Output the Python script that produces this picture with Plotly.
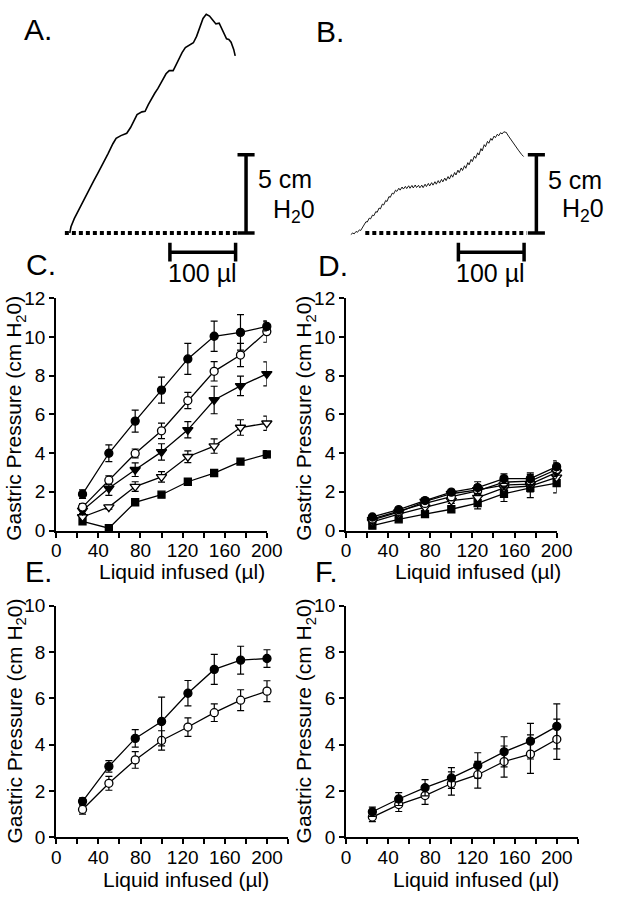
import plotly.graph_objects as go

W, H = 619, 899
FONT = "Liberation Sans, Arial, sans-serif"

# ---------------- data ----------------
volumes = [25, 50, 75, 100, 125, 150, 175, 200]

# Panel C (5 groups)
C_fcircle = [1.88, 3.99, 5.65, 7.25, 8.86, 10.03, 10.23, 10.54]
C_fcircle_err = [0.22, 0.43, 0.57, 0.67, 0.80, 0.78, 0.92, 0.23]
C_ocircle = [1.21, 2.60, 3.98, 5.15, 6.71, 8.22, 9.06, 10.27]
C_ocircle_err = [0.18, 0.22, 0.23, 0.40, 0.42, 0.50, 0.60, 0.55]
C_ftri = [1.04, 2.18, 3.14, 4.06, 5.20, 6.74, 7.47, 8.09]
C_ftri_err = [0.15, 0.36, 0.35, 0.42, 0.42, 0.71, 0.50, 0.62]
C_otri = [0.70, 1.21, 2.27, 2.77, 3.81, 4.36, 5.32, 5.54]
C_otri_err = [0.10, 0.10, 0.25, 0.27, 0.30, 0.37, 0.40, 0.37]
C_square = [0.47, 0.12, 1.46, 1.85, 2.52, 2.97, 3.56, 3.93]
C_square_err = [0.10, 0.08, 0.10, 0.10, 0.10, 0.10, 0.12, 0.20]

# Panel D (5 groups)
D_fcircle = [0.70, 1.08, 1.55, 1.98, 2.22, 2.68, 2.68, 3.30]
D_fcircle_err = [0.12, 0.10, 0.15, 0.15, 0.30, 0.25, 0.30, 0.30]
D_ocircle = [0.60, 1.00, 1.40, 1.75, 2.05, 2.50, 2.55, 3.15]
D_ocircle_err = [0.10, 0.10, 0.15, 0.20, 0.25, 0.30, 0.35, 0.35]
D_ftri = [0.55, 0.95, 1.50, 1.90, 2.10, 2.35, 2.40, 3.00]
D_ftri_err = [0.10, 0.10, 0.15, 0.20, 0.25, 0.25, 0.30, 0.30]
D_otri = [0.45, 0.85, 1.20, 1.55, 1.70, 2.20, 2.30, 2.75]
D_otri_err = [0.10, 0.10, 0.15, 0.15, 0.20, 0.25, 0.30, 0.30]
D_square = [0.25, 0.58, 0.85, 1.10, 1.42, 1.90, 2.20, 2.45]
D_square_err = [0.10, 0.10, 0.15, 0.15, 0.30, 0.40, 0.50, 0.50]

# Panel E
E_filled = [1.55, 3.06, 4.27, 5.00, 6.22, 7.25, 7.65, 7.72]
E_filled_err = [0.15, 0.25, 0.38, 1.05, 0.55, 0.65, 0.60, 0.38]
E_open = [1.20, 2.33, 3.34, 4.18, 4.76, 5.38, 5.92, 6.31]
E_open_err = [0.20, 0.30, 0.36, 0.42, 0.40, 0.38, 0.45, 0.45]

# Panel F
F_filled = [1.10, 1.65, 2.14, 2.56, 3.10, 3.69, 4.15, 4.79]
F_filled_err = [0.20, 0.28, 0.35, 0.45, 0.55, 0.65, 0.77, 0.97]
F_open = [0.87, 1.41, 1.80, 2.32, 2.70, 3.27, 3.59, 4.23]
F_open_err = [0.20, 0.30, 0.38, 0.50, 0.58, 0.67, 0.83, 0.87]

# Panel A raw trace (µl infused, cm H2O)
A_ul = [0, 1.9, 6.9, 14.3, 21.6, 29.0, 36.3, 43.7, 51.0, 58.4, 65.7, 70.6, 77.9,
        86.8, 92.6, 97.5, 102.5, 109.9, 114.7, 119.6, 124.6, 129.4, 134.3, 141.6,
        146.6, 151.5, 157.4, 161.3, 166.2, 171.0, 176.0, 183.4, 188.2, 193.1,
        198.1, 202.9, 207.8, 212.8, 217.6, 222.5, 227.5, 230.9, 234.9, 238.7,
        242.2, 245.6, 249.6, 251.9]
A_cm = [0, 0.40, 0.92, 1.50, 2.06, 2.69, 3.31, 3.90, 4.46, 5.08, 5.71, 6.06, 6.23,
        6.38, 6.75, 7.17, 7.58, 7.75, 7.79, 8.21, 8.63, 8.94, 9.25, 9.77,
        10.19, 10.39, 10.39, 10.71, 11.13, 11.54, 11.86, 12.06, 12.17, 12.58,
        13.21, 13.73, 14.00, 13.88, 13.63, 13.38, 13.42, 13.11, 12.69, 12.42,
        12.38, 12.21, 11.75, 11.33]

# Panel B raw trace (µl infused, cm H2O) - jagged recording
B_ul = [0, 3, 5, 8, 10, 13, 15, 18, 20, 23, 25, 28, 30, 33, 35, 38, 40, 43, 45,
        48, 50, 53, 55, 58, 60, 63, 65, 68, 70, 73, 75, 78, 80, 83, 85, 88, 90,
        93, 95, 98, 100, 103, 105, 108, 110, 113, 115, 118, 120, 123, 125, 128,
        130, 133, 135, 138, 140, 143, 145, 148, 150, 153, 155, 158, 160, 163,
        165, 168, 170, 173, 175, 178, 180, 183, 185, 188, 190, 193, 195, 198,
        200, 203, 205, 208, 210, 213, 215, 218, 220, 223, 225, 228, 230, 233,
        235, 236, 240, 245, 250, 255, 260, 263]
B_cm = [-0.10, 0.00, -0.06, 0.10, 0.04, 0.20, 0.16, 0.40, 0.46, 0.72, 0.70, 0.95,
        0.90, 1.15, 1.10, 1.37, 1.32, 1.60, 1.54, 1.85, 1.79, 2.08, 2.01, 2.33,
        2.28, 2.55, 2.49, 2.74, 2.66, 2.86, 2.74, 2.94, 2.81, 2.98, 2.84, 3.02,
        2.86, 3.04, 2.88, 3.07, 2.91, 3.05, 2.89, 3.06, 2.90, 3.12, 2.97, 3.17,
        3.01, 3.22, 3.06, 3.28, 3.12, 3.35, 3.19, 3.43, 3.27, 3.51, 3.35, 3.61,
        3.45, 3.73, 3.57, 3.87, 3.71, 4.02, 3.86, 4.16, 4.00, 4.30, 4.14, 4.50,
        4.36, 4.71, 4.57, 4.92, 4.78, 5.13, 4.99, 5.40, 5.25, 5.65, 5.52, 5.86,
        5.74, 6.05, 5.93, 6.20, 6.10, 6.32, 6.22, 6.42, 6.33, 6.48, 6.44, 6.46,
        6.20, 5.88, 5.58, 5.30, 5.02, 4.89]

SCALE_CM = 5      # vertical calibration bar (cm H2O)
SCALE_UL = 100    # horizontal calibration bar (µl)

# ---------------- layout helpers ----------------
def fx(px):
    return px / W

def fy(py):
    return 1 - py / H

fig = go.Figure()

def add_series(xa, ya, y, err, symbol, filled, size):
    fig.add_trace(go.Scatter(
        x=volumes, y=y, xaxis=xa, yaxis=ya, mode="lines+markers",
        line=dict(color="black", width=1.3),
        marker=dict(symbol=symbol, size=size,
                    color="black" if filled else "white",
                    line=dict(color="black", width=1.3)),
        error_y=dict(type="data", array=err, color="black", thickness=1.2, width=3.5),
        cliponaxis=False, showlegend=False, hoverinfo="skip"))

# Panel C
add_series("x", "y", C_square, C_square_err, "square", True, 7)
add_series("x", "y", C_otri, C_otri_err, "triangle-down", False, 9)
add_series("x", "y", C_ftri, C_ftri_err, "triangle-down", True, 9)
add_series("x", "y", C_ocircle, C_ocircle_err, "circle", False, 8)
add_series("x", "y", C_fcircle, C_fcircle_err, "circle", True, 8)
# Panel D
add_series("x2", "y2", D_square, D_square_err, "square", True, 7)
add_series("x2", "y2", D_otri, D_otri_err, "triangle-down", False, 9)
add_series("x2", "y2", D_ftri, D_ftri_err, "triangle-down", True, 9)
add_series("x2", "y2", D_ocircle, D_ocircle_err, "circle", False, 8)
add_series("x2", "y2", D_fcircle, D_fcircle_err, "circle", True, 8)
# Panel E
add_series("x3", "y3", E_open, E_open_err, "circle", False, 8)
add_series("x3", "y3", E_filled, E_filled_err, "circle", True, 8)
# Panel F
add_series("x4", "y4", F_open, F_open_err, "circle", False, 8)
add_series("x4", "y4", F_filled, F_filled_err, "circle", True, 8)

# Panels A and B: raw traces with calibration bars
PX_PER_UL = 0.68
PX_PER_CM = 16.0

def add_trace_panel(xa, ya, ul, cm, lw, base_start, base_end, vbar_x, hbar_start, hbar_y):
    fig.add_trace(go.Scatter(x=ul, y=cm, xaxis=xa, yaxis=ya, mode="lines",
                             line=dict(color="black", width=lw),
                             showlegend=False, hoverinfo="skip"))
    # dotted baseline
    fig.add_trace(go.Scatter(x=[base_start, base_end], y=[0, 0], xaxis=xa, yaxis=ya,
                             mode="lines", line=dict(color="black", width=4, dash="4px,3px"),
                             showlegend=False, hoverinfo="skip"))
    cap_ul = 13
    cap_cm = 0.6
    # vertical 5 cm bar
    fig.add_trace(go.Scatter(
        x=[vbar_x, vbar_x, None, vbar_x - cap_ul, vbar_x + cap_ul, None, vbar_x - cap_ul, vbar_x + cap_ul],
        y=[0, SCALE_CM, None, SCALE_CM, SCALE_CM, None, 0, 0],
        xaxis=xa, yaxis=ya, mode="lines", line=dict(color="black", width=3.5),
        showlegend=False, hoverinfo="skip"))
    # horizontal 100 µl bar
    he = hbar_start + SCALE_UL
    fig.add_trace(go.Scatter(
        x=[hbar_start, he, None, hbar_start, hbar_start, None, he, he],
        y=[hbar_y, hbar_y, None, hbar_y - cap_cm, hbar_y + cap_cm, None, hbar_y - cap_cm, hbar_y + cap_cm],
        xaxis=xa, yaxis=ya, mode="lines", line=dict(color="black", width=3.5),
        showlegend=False, hoverinfo="skip"))

add_trace_panel("x5", "y5", A_ul, A_cm, 1.6, -7.4, 254.4, 268.4, 152.5, -1.23)
add_trace_panel("x6", "y6", B_ul, B_cm, 0.9, 22.0, 267.6, 282.4, 163.7, -1.23)

tickfont = dict(family=FONT, size=19, color="black")

def xaxis_style(px0, px1, rmax):
    return dict(domain=[fx(px0), fx(px1)], range=[0, rmax], showline=True, linecolor="black",
                linewidth=2, showgrid=False, zeroline=False, ticks="outside", ticklen=5,
                tickwidth=1.5, tickcolor="black", tick0=0, dtick=40, tickfont=tickfont,
                ticklabelstandoff=-3,
                minor=dict(dtick=20, ticks="outside", ticklen=5, tickwidth=1.5, tickcolor="black"),
                fixedrange=True)

def yaxis_style(py_bottom, py_top, rmax):
    return dict(domain=[fy(py_bottom), fy(py_top)], range=[0, rmax], showline=True,
                linecolor="black", linewidth=2, showgrid=False, zeroline=False,
                ticks="outside", ticklen=5, tickwidth=1.5, tickcolor="black",
                tick0=0, dtick=2, tickfont=tickfont, fixedrange=True)

def hidden_axis(domain, rng):
    return dict(domain=domain, range=rng, visible=False, showgrid=False, zeroline=False, fixedrange=True)

layout_axes = dict(
    xaxis=dict(xaxis_style(53, 271, 200), anchor="y"),
    yaxis=dict(yaxis_style(533, 295, 12), anchor="x"),
    xaxis2=dict(xaxis_style(353, 571, 200), anchor="y2"),
    yaxis2=dict(yaxis_style(533, 295, 12), anchor="x2"),
    xaxis3=dict(xaxis_style(53, 293, 220), anchor="y3"),
    yaxis3=dict(yaxis_style(847, 610, 10), anchor="x3"),
    xaxis4=dict(xaxis_style(353, 593, 220), anchor="y4"),
    yaxis4=dict(yaxis_style(847, 610, 10), anchor="x4"),
    xaxis5=dict(hidden_axis([fx(0), fx(309)], [(0 - 67) / PX_PER_UL, (309 - 67) / PX_PER_UL]), anchor="y5"),
    yaxis5=dict(hidden_axis([fy(290), fy(0)], [(228.3 - 290) / PX_PER_CM, 228.3 / PX_PER_CM]), anchor="x5"),
    xaxis6=dict(hidden_axis([fx(310), fx(619)], [(310 - 358) / PX_PER_UL, (619 - 358) / PX_PER_UL]), anchor="y6"),
    yaxis6=dict(hidden_axis([fy(290), fy(0)], [(228.3 - 290) / PX_PER_CM, 228.3 / PX_PER_CM]), anchor="x6"),
)

annotations = []

def ann(text, px, py, size, xanchor="center", angle=0):
    annotations.append(dict(text=text, x=fx(px), y=fy(py), xref="paper", yref="paper",
                            xanchor=xanchor, yanchor="middle", showarrow=False,
                            textangle=angle, font=dict(family=FONT, size=size, color="black")))

# panel letters
ann("A.", 18, 20, 30, "left")
ann("B.", 320, 22, 30, "left")
ann("C.", 20, 261, 30, "left")
ann("D.", 322, 262, 30, "left")
ann("E.", 19, 575, 29, "left")
ann("F.", 319, 575, 29, "left")

# calibration labels
ann("5 cm", 260, 173.5, 25, "left")
ann("H<sub>2</sub>0", 275, 206, 25, "left")
ann("100 µl", 204, 269, 25)
ann("5 cm", 560, 174.5, 25, "left")
ann("H<sub>2</sub>0", 575, 205, 25, "left")
ann("100 µl", 503, 269, 25)

# axis titles
ytitle = "Gastric Pressure (cm H<sub>2</sub>0)"
xtitle = "Liquid infused (µl)"
ann(xtitle, 183, 575, 21)
ann(xtitle, 490, 575, 21)
ann(xtitle, 187, 890, 21)
ann(xtitle, 488, 890, 21)
ann(ytitle, 11, 418, 21, angle=-90)
ann(ytitle, 311, 418, 21, angle=-90)
ann(ytitle, 11, 728, 21, angle=-90)
ann(ytitle, 311, 728, 21, angle=-90)

fig.update_layout(
    width=W, height=H, margin=dict(l=0, r=0, t=0, b=0),
    paper_bgcolor="white", plot_bgcolor="rgba(0,0,0,0)",
    showlegend=False, annotations=annotations,
    font=dict(family=FONT, color="black"),
    **layout_axes)

fig.write_html("out.html", config={"displayModeBar": False},
               post_script="document.body.style.margin='0';document.body.style.padding='0';"
                           "document.body.style.overflow='hidden';")
